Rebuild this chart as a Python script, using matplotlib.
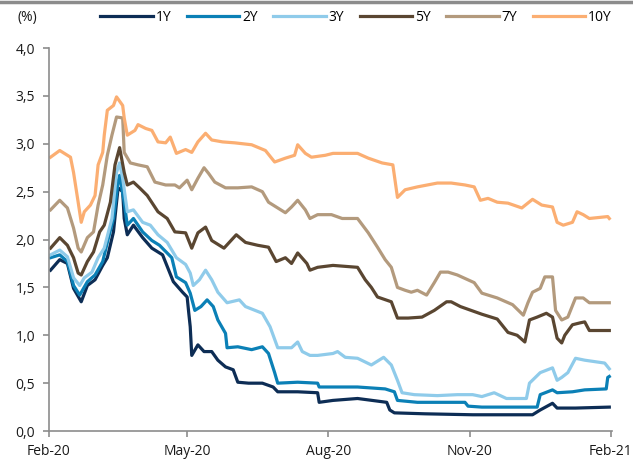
import numpy as np
import matplotlib
matplotlib.use("Agg")
import matplotlib.pyplot as plt
from matplotlib.lines import Line2D

plt.rcParams['font.family'] = ['Open Sans', 'DejaVu Sans']

# days counted from 2020-02-01
start = np.datetime64('2020-02-01')

days_1y = [1, 7, 12, 16, 21, 25, 30, 35, 38, 42, 45, 48, 49, 51, 55, 61, 67, 74, 81, 87, 90, 91, 92, 93,
           97, 101, 106, 110, 115, 120, 123, 130, 139, 146, 149, 162, 175, 176, 185, 201, 220, 222, 225,
           245, 276, 315, 320, 328, 331, 343, 365]
vals_1y = [1.68, 1.79, 1.75, 1.49, 1.35, 1.52, 1.58, 1.73, 1.81, 2.08, 2.54, 2.50, 2.22, 2.05, 2.15, 2.02,
           1.91, 1.84, 1.56, 1.45, 1.40, 1.24, 1.09, 0.79, 0.90, 0.83, 0.83, 0.74, 0.67, 0.64, 0.51, 0.50,
           0.50, 0.46, 0.41, 0.41, 0.40, 0.30, 0.32, 0.34, 0.30, 0.22, 0.19, 0.18, 0.17, 0.17, 0.22, 0.29,
           0.24, 0.24, 0.25]

days_2y = [1, 7, 12, 16, 20, 25, 30, 35, 38, 42, 45, 46, 49, 51, 55, 61, 67, 72, 80, 83, 89, 92, 95, 99,
           103, 107, 110, 115, 116, 123, 132, 139, 143, 147, 149, 162, 175, 176, 185, 201, 219, 225, 227,
           240, 271, 273, 282, 318, 320, 328, 331, 341, 349, 363, 364, 365]
vals_2y = [1.81, 1.84, 1.77, 1.52, 1.42, 1.56, 1.63, 1.77, 1.97, 2.22, 2.60, 2.67, 2.39, 2.15, 2.22, 2.08,
           1.99, 1.94, 1.81, 1.61, 1.55, 1.44, 1.26, 1.30, 1.37, 1.30, 1.16, 1.02, 0.87, 0.88, 0.85, 0.88,
           0.81, 0.61, 0.50, 0.51, 0.50, 0.46, 0.46, 0.46, 0.44, 0.41, 0.32, 0.30, 0.30, 0.26, 0.25, 0.25,
           0.38, 0.43, 0.40, 0.41, 0.43, 0.44, 0.56, 0.57]

days_3y = [1, 7, 12, 16, 20, 23, 28, 32, 36, 41, 44, 46, 48, 51, 55, 61, 66, 71, 77, 83, 89, 92, 94, 98,
           102, 106, 110, 116, 124, 128, 139, 144, 149, 158, 162, 165, 170, 175, 185, 188, 193, 201, 210,
           218, 223, 227, 230, 238, 253, 266, 276, 282, 290, 298, 311, 313, 320, 328, 331, 334, 338, 343,
           349, 362, 365]
vals_3y = [1.84, 1.89, 1.82, 1.60, 1.52, 1.60, 1.66, 1.81, 1.91, 2.22, 2.70, 2.80, 2.64, 2.29, 2.31, 2.18,
           2.15, 2.05, 1.97, 1.81, 1.74, 1.65, 1.52, 1.58, 1.68, 1.58, 1.45, 1.34, 1.37, 1.30, 1.23, 1.09,
           0.87, 0.87, 0.93, 0.83, 0.79, 0.79, 0.81, 0.83, 0.77, 0.76, 0.69, 0.77, 0.69, 0.53, 0.40, 0.38,
           0.37, 0.38, 0.38, 0.36, 0.40, 0.34, 0.34, 0.50, 0.61, 0.66, 0.53, 0.56, 0.61, 0.76, 0.74, 0.71,
           0.65]

days_5y = [1, 7, 12, 16, 19, 21, 25, 29, 33, 36, 40, 43, 46, 49, 51, 55, 59, 64, 71, 77, 82, 89, 93, 97,
           102, 106, 114, 122, 128, 136, 143, 148, 154, 158, 162, 168, 170, 175, 185, 201, 206, 210, 214,
           223, 227, 234, 243, 251, 259, 262, 268, 275, 282, 292, 299, 305, 310, 313, 318, 324, 328, 331,
           334, 336, 341, 346, 349, 352, 365]
vals_5y = [1.91, 2.02, 1.94, 1.81, 1.65, 1.63, 1.77, 1.87, 2.08, 2.15, 2.39, 2.78, 2.96, 2.70, 2.57, 2.60,
           2.54, 2.46, 2.29, 2.22, 2.08, 2.07, 1.91, 2.07, 2.13, 1.99, 1.91, 2.05, 1.97, 1.94, 1.92, 1.77,
           1.81, 1.75, 1.86, 1.75, 1.68, 1.71, 1.73, 1.71, 1.58, 1.50, 1.40, 1.35, 1.18, 1.18, 1.19, 1.26,
           1.35, 1.35, 1.30, 1.26, 1.22, 1.17, 1.03, 1.00, 0.93, 1.16, 1.19, 1.23, 1.19, 0.97, 0.92, 1.00,
           1.11, 1.13, 1.14, 1.05, 1.05]

days_7y = [1, 7, 12, 16, 19, 21, 25, 29, 32, 35, 38, 41, 44, 48, 49, 53, 58, 64, 69, 76, 82, 85, 90, 93,
           97, 101, 104, 108, 115, 123, 132, 139, 143, 149, 154, 158, 162, 167, 170, 175, 184, 191, 201,
           208, 214, 219, 223, 227, 232, 236, 240, 246, 251, 255, 260, 266, 277, 282, 292, 302, 309, 312,
           315, 320, 323, 328, 330, 334, 338, 343, 348, 352, 365]
vals_7y = [2.31, 2.41, 2.33, 2.12, 1.91, 1.87, 2.02, 2.08, 2.36, 2.57, 2.88, 3.09, 3.28, 3.27, 2.91, 2.80,
           2.78, 2.76, 2.60, 2.57, 2.57, 2.54, 2.62, 2.52, 2.64, 2.75, 2.69, 2.60, 2.54, 2.54, 2.55, 2.50,
           2.39, 2.33, 2.28, 2.34, 2.41, 2.31, 2.22, 2.26, 2.26, 2.22, 2.22, 2.07, 1.92, 1.79, 1.71, 1.50,
           1.47, 1.45, 1.47, 1.42, 1.55, 1.66, 1.66, 1.63, 1.55, 1.44, 1.39, 1.32, 1.21, 1.34, 1.45, 1.49,
           1.61, 1.61, 1.26, 1.16, 1.19, 1.39, 1.39, 1.34, 1.34]

days_10y = [1, 7, 14, 16, 19, 21, 23, 27, 30, 32, 35, 36, 38, 42, 44, 48, 49, 51, 56, 58, 63, 67, 71, 76,
            79, 83, 89, 93, 97, 102, 106, 113, 121, 132, 141, 147, 154, 160, 162, 167, 171, 180, 185, 201,
            208, 217, 224, 227, 232, 240, 253, 262, 271, 277, 281, 286, 292, 299, 308, 315, 321, 328, 331,
            335, 341, 344, 348, 352, 364, 365]
vals_10y = [2.86, 2.93, 2.86, 2.70, 2.39, 2.18, 2.29, 2.36, 2.46, 2.78, 2.91, 3.09, 3.35, 3.40, 3.49, 3.40,
            3.27, 3.09, 3.14, 3.20, 3.16, 3.14, 3.02, 3.01, 3.07, 2.90, 2.94, 2.91, 3.02, 3.11, 3.04, 3.02,
            3.01, 2.99, 2.93, 2.81, 2.85, 2.88, 2.99, 2.90, 2.86, 2.88, 2.90, 2.90, 2.85, 2.80, 2.78, 2.44,
            2.52, 2.55, 2.59, 2.59, 2.57, 2.55, 2.41, 2.43, 2.39, 2.38, 2.33, 2.42, 2.36, 2.34, 2.18, 2.15,
            2.18, 2.29, 2.26, 2.22, 2.24, 2.22]

labels = ['1Y', '2Y', '3Y', '5Y', '7Y', '10Y']
colors = ['#0d2d55', '#0b80b6', '#8fcbea', '#5a4631', '#b39a7d', '#fbae72']
series = [(days_1y, vals_1y), (days_2y, vals_2y), (days_3y, vals_3y),
          (days_5y, vals_5y), (days_7y, vals_7y), (days_10y, vals_10y)]

tick_dates = ['2020-02-01', '2020-05-01', '2020-08-01', '2020-11-01', '2021-02-01']
tick_labels = ['Feb-20', 'May-20', 'Aug-20', 'Nov-20', 'Feb-21']

fig = plt.figure(figsize=(6.33, 4.62), dpi=100)
ax = fig.add_axes([0.0774, 0.067, 0.89, 0.829])

for (d, v), lab, c in zip(series, labels, colors):
    x = start + np.array(d, dtype='timedelta64[D]')
    ax.plot(x, v, color=c, lw=2.3, label=lab, solid_joinstyle='round')

ax.set_ylim(0, 4.0)
ax.set_yticks(np.arange(0, 4.01, 0.5))
ax.set_yticklabels([f"{t:.1f}".replace('.', ',') for t in np.arange(0, 4.01, 0.5)])
ax.set_xlim(np.datetime64('2020-02-01'), np.datetime64('2021-02-02'))
ax.set_xticks([np.datetime64(t) for t in tick_dates])
ax.set_xticklabels(tick_labels)

for s in ['top', 'right']:
    ax.spines[s].set_visible(False)
for s in ['left', 'bottom']:
    ax.spines[s].set_color('#8c8c8c')
    ax.spines[s].set_linewidth(1.2)
ax.tick_params(axis='both', direction='out', length=4, color='#8c8c8c', width=1.2,
               labelsize=10, labelcolor='#1a1a1a')
ax.tick_params(axis='y', pad=6)
ax.tick_params(axis='x', pad=5)

fig.text(0.027, 0.962, '(%)', fontsize=10, color='#1a1a1a', va='center')
fig.legend(loc='center left', bbox_to_anchor=(0.158, 0.962), ncol=6, frameon=False,
           fontsize=10, handlelength=3.8, handletextpad=0.2, columnspacing=1.1,
           borderaxespad=0, borderpad=0)

# grey rule across the top edge
fig.add_artist(Line2D([0, 1], [0.996, 0.996], color='#8c8c8c', lw=2.5))

fig.savefig('out.png', dpi=100)
